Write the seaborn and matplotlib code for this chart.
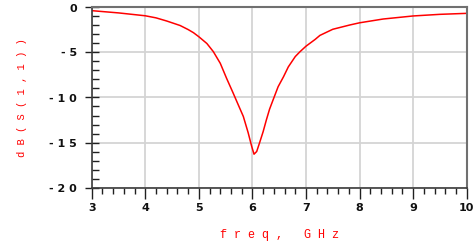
import numpy as np
import pandas as pd
import seaborn as sns
import matplotlib
matplotlib.use("Agg")
import matplotlib.pyplot as plt
from matplotlib.ticker import MultipleLocator, FixedLocator, FixedFormatter

# data
freq_ghz = [3.0, 3.5, 4.0, 4.2, 4.4, 4.65, 4.8, 4.9, 5.0, 5.15, 5.27, 5.4, 5.52,
            5.64, 5.72, 5.83, 5.92, 5.985, 6.03, 6.08, 6.13, 6.2, 6.26, 6.32, 6.39,
            6.48, 6.58, 6.67, 6.8, 6.89, 7.0, 7.17, 7.26, 7.5, 7.82, 8.0, 8.44, 9.0,
            9.5, 10.0]
s11_db = [-0.35, -0.6, -0.92, -1.15, -1.5, -2.0, -2.45, -2.8, -3.25, -4.0, -4.9,
          -6.2, -7.9, -9.5, -10.6, -12.1, -13.9, -15.4, -16.3, -16.0, -15.1, -13.8,
          -12.5, -11.3, -10.2, -8.8, -7.7, -6.6, -5.45, -4.9, -4.3, -3.55, -3.1,
          -2.42, -1.94, -1.7, -1.28, -0.94, -0.76, -0.65]

x_ticks = [3, 4, 5, 6, 7, 8, 9, 10]
x_tick_labels = ["3", "4", "5", "6", "7", "8", "9", "10"]
y_ticks = [0, -5, -10, -15, -20]
y_tick_labels = ["0", "- 5", "- 1 0", "- 1 5", "- 2 0"]

df = pd.DataFrame({"freq": freq_ghz, "s11": s11_db})

sns.set_style("white")
plt.rcParams["font.family"] = ["DejaVu Sans"]

fig = plt.figure(figsize=(4.74, 2.43), dpi=100)
ax = fig.add_axes([91.7 / 474, 1 - 187.5 / 243, 375 / 474, 180 / 243])

sns.lineplot(data=df, x="freq", y="s11", ax=ax, color="#ff0000", linewidth=1.1)

ax.set_xlim(3, 10)
ax.set_ylim(-20, 0)

ax.xaxis.set_major_locator(FixedLocator(x_ticks))
ax.xaxis.set_major_formatter(FixedFormatter(x_tick_labels))
ax.xaxis.set_minor_locator(MultipleLocator(0.2))
ax.yaxis.set_major_locator(FixedLocator(y_ticks))
ax.yaxis.set_major_formatter(FixedFormatter(y_tick_labels))
ax.yaxis.set_minor_locator(MultipleLocator(1))

ax.grid(True, which="major", color="#d4d4d4", linewidth=1.3)
ax.set_axisbelow(True)

for side in ["left", "bottom"]:
    ax.spines[side].set_color("#3c3c3c")
    ax.spines[side].set_linewidth(1.2)
for side in ["top", "right"]:
    ax.spines[side].set_color("#707070")
    ax.spines[side].set_linewidth(1.5)
    ax.spines[side].set_visible(True)

ax.tick_params(axis="x", which="major", direction="out", length=8, width=1.0,
               color="#202020", labelsize=8, pad=3, bottom=True)
ax.tick_params(axis="x", which="minor", direction="out", length=4.5, width=1.0,
               color="#202020", bottom=True)
ax.tick_params(axis="y", which="major", direction="inout", length=10, width=1.0,
               color="#202020", labelsize=8, pad=5.5, left=True)
ax.tick_params(axis="y", which="minor", direction="in", length=5, width=1.0,
               color="#202020", left=True)
for lab in ax.get_xticklabels() + ax.get_yticklabels():
    lab.set_fontweight("bold")
    lab.set_color("#101010")

ax.set_xlabel("f r e q ,   G H z", color="#ff0000", fontsize=8.5,
              family="Liberation Mono", labelpad=12)
ax.set_ylabel("d B ( S ( 1 , 1 ) )", color="#ff0000", fontsize=7.6,
              family="Liberation Mono", labelpad=16)

fig.savefig("out.png", dpi=100)
